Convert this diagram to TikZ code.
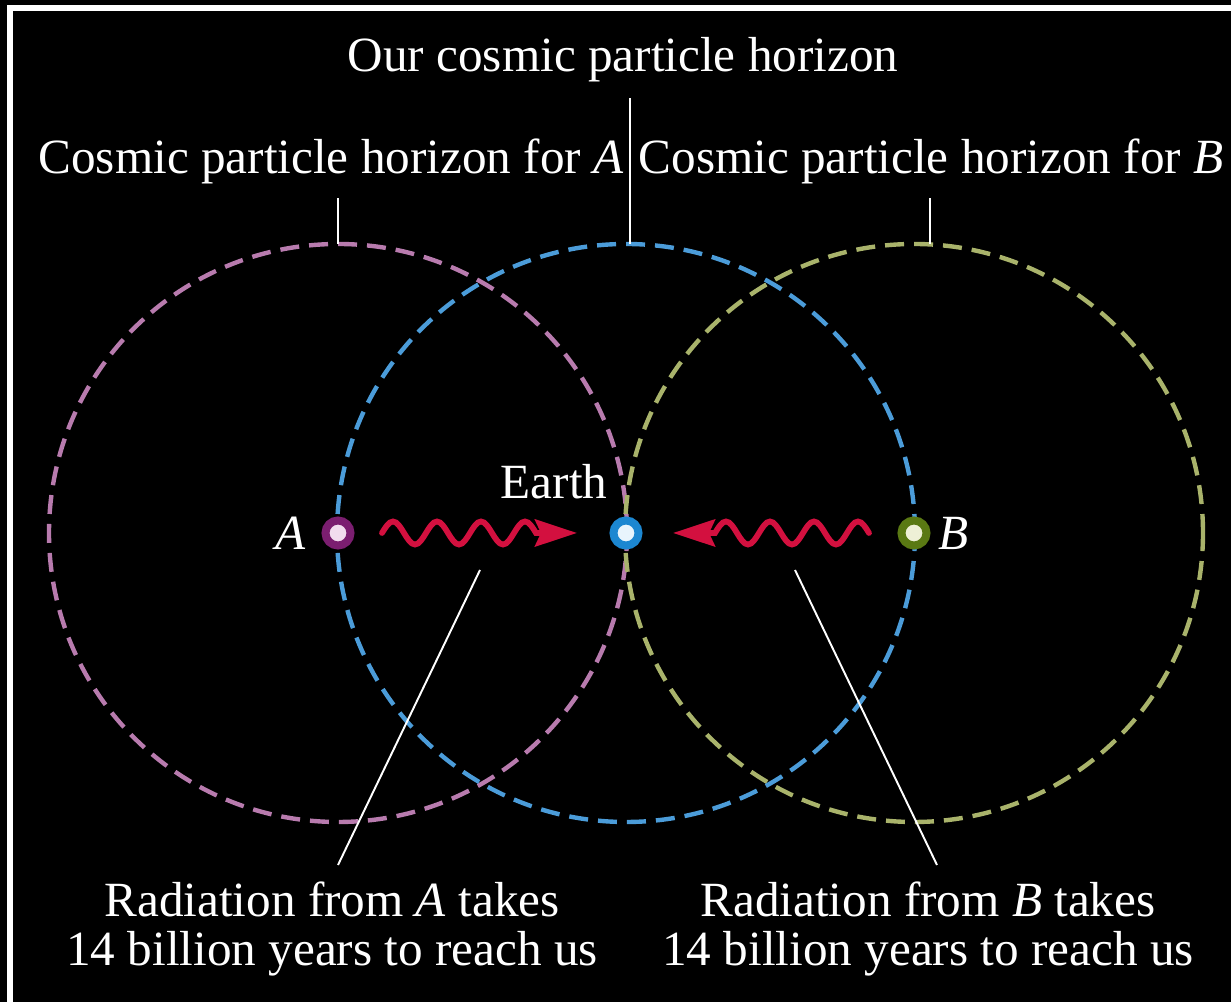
\documentclass[tikz,border=0pt]{standalone}
\usepackage{fontspec}
\setmainfont{Liberation Serif}
\usepackage{xcolor}
\usepackage{tikz}
\usetikzlibrary{positioning, arrows.meta, calc}
\definecolor{hzA}{HTML}{B87BAE}
\definecolor{hzOur}{HTML}{4B9CD9}
\definecolor{hzB}{HTML}{A9B36B}
\definecolor{waveRed}{HTML}{D3103F}
\definecolor{dotA}{HTML}{7B1E70}
\definecolor{dotAin}{HTML}{F2DDEE}
\definecolor{dotEarth}{HTML}{1C87D1}
\definecolor{dotEarthin}{HTML}{E8F4FC}
\definecolor{dotB}{HTML}{5A7913}
\definecolor{dotBin}{HTML}{EEF0D6}
\newcommand{\hzradius}{5.78cm}

\begin{document}
\begin{tikzpicture}[lbl/.style={text=white, font=\fontsize{28}{27.5}\selectfont, inner sep=0pt},horizon/.style={dash pattern=on 0.38cm off 0.2cm, line width=2.5pt},leader/.style={white, line width=1.1pt},wave/.style={-{Stealth[length=0.84cm, width=0.54cm, inset=0.12cm]}, line width=3.3pt, color=waveRed, line cap=round},planet/.style={circle, minimum size=0.5cm, inner sep=0pt, line width=0.16cm}]
\useasboundingbox (0,0) rectangle (24.62,20.04);
\fill[black] (0,0) rectangle (24.62,20.04);
\draw[white, line width=0.12cm] (0.2,0) -- (0.2,19.88) -- (24.62,19.88);
\coordinate (cA) at (6.76,9.38); \coordinate (cE) at (12.52,9.38); \coordinate (cB) at (18.28,9.38);
% horizons
\draw[horizon, hzA] (cA) circle[radius=\hzradius];
\draw[horizon, hzB] (cB) circle[radius=\hzradius];
\draw[horizon, hzOur] (cE) circle[radius=\hzradius];
\node[planet, draw=dotA, fill=dotAin] (A) at (cA) {};
\node[planet, draw=dotEarth, fill=dotEarthin] (earth) at (cE) {};
\node[planet, draw=dotB, fill=dotBin] (B) at (cB) {};
\node[lbl, left=0.3cm of A] (Alb) {\textit{A}};
\node[lbl, right=0.16cm of B] (Blb) {\textit{B}};
\node[lbl, anchor=base] (earthlbl) at (11.08,10.06) {Earth};
% labels on top
\node[lbl, anchor=base] (ourlbl) at (12.46,18.6) {Our cosmic particle horizon};
\node[lbl, anchor=base] (lblA) at (6.62,16.56) {Cosmic particle horizon for \textit{A}};
\node[lbl, anchor=base] (lblB) at (18.62,16.56) {Cosmic particle horizon for \textit{B}};
\coordinate (topA) at ($(cA)+(0,\hzradius)$); \coordinate (topE) at ($(cE)+(0.08,\hzradius)$); \coordinate (topB) at ($(cB)+(0.32,\hzradius)$);
\draw[leader, shorten >=0.26cm] (topA) -- (topA |- lblA.south);
\draw[leader, shorten >=0.26cm] (topB) -- (topB |- lblB.south);
\draw[leader, shorten >=0.3cm] (topE) -- (topE |- ourlbl.south);
% radiation
\draw[wave] ($(cA)+(0.88,0)$) \foreach \k in {1,2,3}{ sin ++(0.22,0.23) cos ++(0.22,-0.23) sin ++(0.22,-0.23) cos ++(0.22,0.23)} sin ++(0.22,0.23) cos ++(0.22,-0.23) -- ($(cE)+(-0.98,0)$);
\draw[wave] ($(cB)+(-0.9,0)$) \foreach \k in {1,2,3}{ sin ++(-0.22,0.23) cos ++(-0.22,-0.23) sin ++(-0.22,-0.23) cos ++(-0.22,0.23)} sin ++(-0.22,0.23) cos ++(-0.22,-0.23) -- ($(cE)+(0.94,0)$);
\node[lbl, align=center, anchor=north] (radA) at (6.64,2.4) {Radiation from \textit{A} takes\\14 billion years to reach us};
\node[lbl, align=center, anchor=north] (radB) at (18.56,2.4) {Radiation from \textit{B} takes\\14 billion years to reach us};
\coordinate (tipA) at (9.6,8.64); \coordinate (tipB) at (15.9,8.64);
\draw[leader] (tipA) -- ($(radA.north)+(0.12,0.34)$);
\draw[leader] (tipB) -- ($(radB.north)+(0.18,0.34)$);
\end{tikzpicture}
\end{document}
